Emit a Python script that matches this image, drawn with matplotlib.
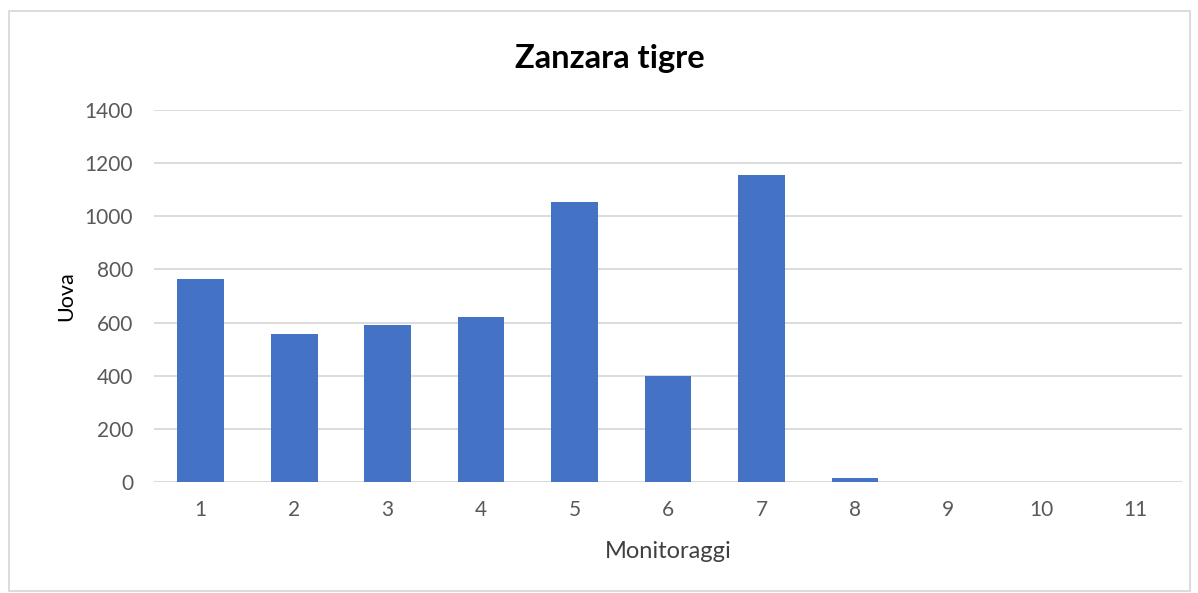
"""
Zanzara tigre - eggs per monitoring round.
"""

import matplotlib.pyplot as plt
from matplotlib.patches import Rectangle


# ==========================================================
# Data
# ==========================================================

monitoraggi = ["1", "2", "3", "4", "5", "6", "7", "8", "9", "10", "11"]
uova = [765, 558, 592, 620, 1055, 398, 1156, 16, 0, 0, 0]

BLUE = "#4472C4"
GRID = "#D9D9D9"
TEXT = "#595959"

plt.rcParams["font.family"] = ["Lato", "DejaVu Sans"]


# ==========================================================
# Figure
# ==========================================================

fig = plt.figure(figsize=(11.98, 5.93), dpi=100)
W, H = 1198, 593

# chart border
fig.patches.append(
    Rectangle(
        (9 / W, 1 - 591 / H),
        (1190 - 9) / W,
        (591 - 11) / H,
        transform=fig.transFigure,
        fill=False,
        edgecolor=GRID,
        linewidth=1.3,
    )
)

ax = fig.add_axes([154 / W, 1 - 482 / H, (1182 - 154) / W, (482 - 110) / H])

x = range(len(monitoraggi))
ax.bar(x, uova, width=0.5, color=BLUE, zorder=3)

ax.set_xlim(-0.5, len(monitoraggi) - 0.5)
ax.set_ylim(0, 1400)
ax.set_yticks(range(0, 1401, 200))
ax.set_xticks(list(x))
ax.set_xticklabels(monitoraggi)

ax.grid(axis="y", color=GRID, linewidth=1.3, zorder=0)
for side in ["top", "right", "left", "bottom"]:
    ax.spines[side].set_visible(False)
ax.axhline(0, color=GRID, linewidth=1.3, zorder=1)

ax.tick_params(axis="both", length=0, labelsize=15, colors=TEXT)
ax.tick_params(axis="y", pad=15)
ax.tick_params(axis="x", pad=13)

ax.set_xlabel("Monitoraggi", fontsize=17, color="#404040", va="center")
ax.xaxis.set_label_coords(0.5, -0.188)
ax.set_ylabel("Uova", fontsize=15.5, color="#000000", va="center")
ax.yaxis.set_label_coords(-0.0856, 0.5)

fig.text(
    610 / W,
    1 - 67.7 / H,
    "Zanzara tigre",
    ha="center",
    va="baseline",
    fontsize=23.5,
    fontweight="bold",
    color="#000000",
)

fig.savefig("out.png", dpi=100)
plt.close(fig)
